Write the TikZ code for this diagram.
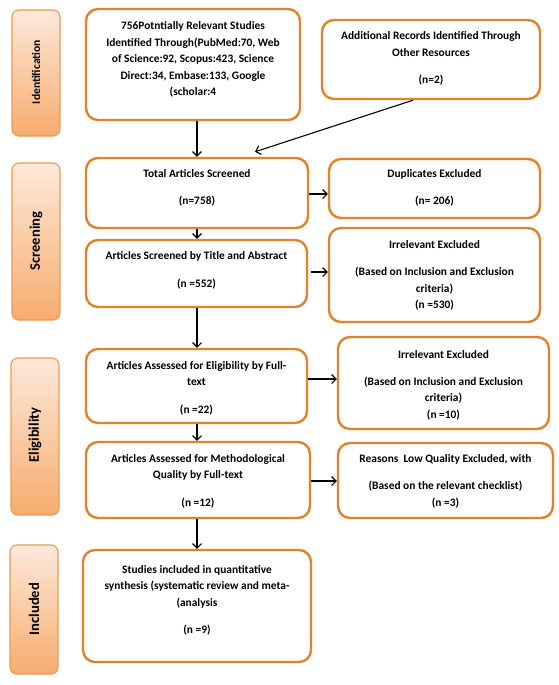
\documentclass[tikz,border=0pt]{standalone}
\usepackage{fontspec}
\setmainfont{Carlito}[BoldFont={Carlito Bold}]
\usetikzlibrary{arrows.meta,calc}
\definecolor{mainorange}{HTML}{E2832B}
\definecolor{sidetop}{HTML}{FDE9DA}
\definecolor{sidebot}{HTML}{F7AC6E}
\definecolor{sideedge}{HTML}{E89A55}
\tikzset{
  mainbox/.style={draw=mainorange, line width=2.4pt, rounded corners=12pt, inner sep=0pt},
  sidebox/.style={draw=sideedge, line width=1.1pt, rounded corners=7pt, inner sep=0pt,
    top color=sidetop, bottom color=sidebot, minimum width=48pt},
  txt/.style={align=center, inner sep=0pt, font=\bfseries\fontsize{11.4}{16.4}\selectfont},
  sidetxt/.style={rotate=90, inner sep=0pt, font=\bfseries\fontsize{14.6}{16}\selectfont},
  arr/.style={line width=1.1pt, -{Straight Barb[length=4.5pt,width=9pt,line width=1.1pt]}}
}
\begin{document}
\begin{tikzpicture}[x=1pt,y=-1pt]
\useasboundingbox (0,0) rectangle (559,685);
% side boxes
\node[sidebox, minimum height=126pt] (sid) at (36,73) {};
\node[sidetxt, font=\bfseries\fontsize{11.6}{13}\selectfont] (sidt) at (36,72) {Identification};
\node[sidebox, minimum height=157pt] (ssc) at (36,241.5) {};
\node[sidetxt] (ssct) at (36,241) {Screening};
\node[sidebox, minimum height=157pt] (sel) at (35,436.5) {};
\node[sidetxt] (selt) at (35,435) {Eligibility};
\node[sidebox, minimum height=129pt] (sin) at (34,609.5) {};
\node[sidetxt] (sint) at (34,609) {Included};
% main boxes
\node[mainbox, minimum width=214pt, minimum height=111pt] (b1) at (193,64.5) {};
\node[txt] (b1t) at (193,59.5) {756Potntially Relevant Studies\\Identified Through(PubMed:70, Web\\of Science:92, Scopus:423, Science\\Direct:34, Embase:133, Google\\(scholar:4};
\node[mainbox, minimum width=218pt, minimum height=79pt] (b2) at (431,59.5) {};
\node[txt] (b2t) at (431,58.5) {Additional Records Identified Through\\Other Resources\\[11pt](n=2)};
\node[mainbox, minimum width=222pt, minimum height=70pt] (tot) at (197,193) {};
\node[txt] (tott) at (197,188) {Total Articles Screened\\[11pt](n=758)};
\node[mainbox, minimum width=211pt, minimum height=59pt] (dup) at (434.5,188.5) {};
\node[txt] (dupt) at (434.5,188) {Duplicates Excluded\\[11pt](n= 206)};
\node[mainbox, minimum width=221pt, minimum height=67pt] (tab) at (196.5,273.5) {};
\node[txt] (tabt) at (196.5,270.5) {Articles Screened by Title and Abstract\\[11pt](n =552)};
\node[mainbox, minimum width=211pt, minimum height=94pt] (ir1) at (434.5,275) {};
\node[txt] (ir1t) at (434.5,275.5) {Irrelevant Excluded\\[11pt](Based on Inclusion and Exclusion\\criteria)\\(n =530)};
\node[mainbox, minimum width=221pt, minimum height=74pt] (eli) at (196.5,386) {};
\node[txt] (elit) at (196.5,388) {Articles Assessed for Eligibility by Full-\\text\\[11pt](n =22)};
\node[mainbox, minimum width=211pt, minimum height=92pt] (ir2) at (443.5,383) {};
\node[txt] (ir2t) at (443.5,385) {Irrelevant Excluded\\[11pt](Based on Inclusion and Exclusion\\criteria)\\(n =10)};
\node[mainbox, minimum width=224pt, minimum height=76pt] (met) at (198,480) {};
\node[txt] (mett) at (198,481) {Articles Assessed for Methodological\\Quality by Full-text\\[11pt](n =12)};
\node[mainbox, minimum width=215pt, minimum height=75pt] (rea) at (445.5,480.5) {};
\node[txt] (reat) at (445.5,481) {Reasons~ Low Quality Excluded, with\\[11pt](Based on the relevant checklist)\\(n =3)};
\node[mainbox, minimum width=228pt, minimum height=112pt] (stu) at (197,606) {};
\node[txt] (stut) at (197,600.5) {Studies included in quantitative\\synthesis (systematic review and meta-\\(analysis\\[11pt](n =9)};
% connectors
\coordinate (d1) at ($(b2.south)+(-18,0)$);
\coordinate (d2) at ($(tot.north)+(58,-5)$);
\draw[arr] (b1.south -| tot.north) -- (tot.north);
\draw[arr] (d1) -- (d2);
\draw[arr] (tot.east |- dup.west) ++(0,5.5) -- ($(dup.west)+(0,5.5)$);
\draw[arr] (tot.south) -- (tab.north -| tot.south);
\draw[arr] ($(tab.east)+(3,-1.5)$) -- ($(ir1.west)+(0,-3)$);
\draw[arr] (tab.south -| tot.south) -- (eli.north -| tot.south);
\draw[arr] ($(eli.east)+(0,-7)$) -- ($(ir2.west)+(0,-4)$);
\draw[arr] (eli.south -| tot.south) -- (met.north -| tot.south);
\draw[arr] ($(met.east)+(0,1)$) -- ($(rea.west)+(0,0.5)$);
\draw[arr] (met.south -| tot.south) -- (stu.north -| tot.south);
\end{tikzpicture}
\end{document}
